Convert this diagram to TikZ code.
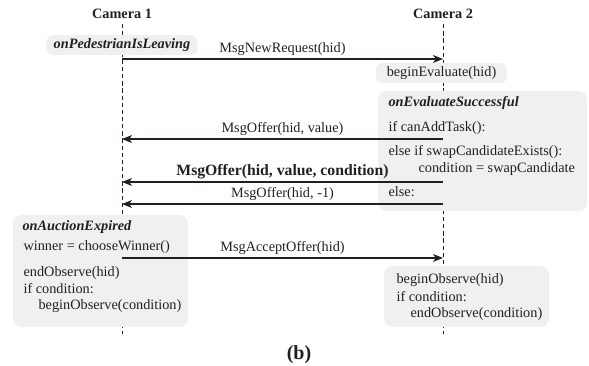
\documentclass[tikz,border=0pt]{standalone}
\usepackage{fontspec}
\setmainfont{Liberation Serif}
\usepackage{tikz}
\usetikzlibrary{arrows.meta}
\definecolor{box_gray}{RGB}{239,240,239}
\definecolor{ink}{RGB}{35,31,32}

\begin{document}
\begin{tikzpicture}[->,thick,>={Stealth[length=7pt,width=5.5pt,inset=2pt]},x=0.7pt,y=-0.7pt,color=ink,text=ink]
    \tikzstyle{head}=[font=\bfseries]
    \tikzstyle{life}=[-, semithick, dash pattern=on 3pt off 2pt]
    \tikzstyle{pill}=[fill=box_gray, rounded corners=5pt, minimum height=14pt, inner sep=0pt]
    \tikzstyle{panel}=[fill=box_gray, rounded corners=6pt]
    \tikzstyle{code}=[anchor=west, inner sep=0pt, text height=7pt, text depth=2pt]
    \tikzstyle{title}=[style=code, font=\bfseries\itshape]
    \tikzstyle{msg}=[above, inner sep=2pt]

    \useasboundingbox (0,0) rectangle (589,366);

    % lifelines
    \node[head] (cam1) at (122,14) {Camera 1};
    \node[head] (cam2) at (443,14) {Camera 2};
    \coordinate (end1) at (122,334);
    \coordinate (end2) at (443,334);
    \draw[life] (cam1) -- (end1);
    \draw[life] (cam2) -- (end2);

    % handler panels
    \node[pill, minimum width=106pt, font=\bfseries\itshape] (leave) at (122,45) {onPedestrianIsLeaving};
    \node[pill, minimum width=92pt] (eval) at (441.5,73) {beginEvaluate(hid)};
    \fill[panel] (378,91) rectangle (587,211);
    \fill[panel] (13,215) rectangle (188,327);
    \fill[panel] (384,266) rectangle (549,327);

    \node[title] (evok)  at (388,103) {onEvaluateSuccessful};
    \node[code]  (add)   at (388,128) {if canAddTask():};
    \node[code]  (swap)  at (388,152) {else if swapCandidateExists():};
    \node[code]  (cond)  at (418,169) {condition = swapCandidate};
    \node[code]  (other) at (388,193) {else:};

    \node[title] (expired) at (22,227) {onAuctionExpired};
    \node[code]  (winner)  at (23,247) {winner = chooseWinner()};
    \node[code]  (stop1)   at (23,273) {endObserve(hid)};
    \node[code]  (if1)     at (23,290) {if condition:};
    \node[code]  (start1)  at (38,306) {beginObserve(condition)};

    \node[code]  (start2)  at (396,280) {beginObserve(hid)};
    \node[code]  (if2)     at (396,298) {if condition:};
    \node[code]  (stop2)   at (410,314) {endObserve(condition)};

    % messages
    \coordinate (req1)  at (122,59);   \coordinate (req2)  at (443,59);
    \coordinate (offv1) at (122,139);  \coordinate (offv2) at (443,139);
    \coordinate (offc1) at (122,182);  \coordinate (offc2) at (443,182);
    \coordinate (offn1) at (122,204);  \coordinate (offn2) at (443,204);
    \coordinate (acc1)  at (122,258);  \coordinate (acc2)  at (443,258);

    \path
     (req1) edge node[msg] {MsgNewRequest(hid)} (req2)
     (offv2) edge node[msg] {MsgOffer(hid, value)} (offv1)
     (offc2) edge node[msg, font=\fontsize{11}{13}\selectfont\bfseries] {MsgOffer(hid, value, condition)} (offc1)
     (offn2) edge node[msg] {MsgOffer(hid, -1)} (offn1)
     (acc1) edge node[msg] {MsgAcceptOffer(hid)} (acc2)
     ;

    \node[font=\fontsize{14}{16}\selectfont\bfseries] (sub) at (299,355) {(b)};
\end{tikzpicture}
\end{document}
